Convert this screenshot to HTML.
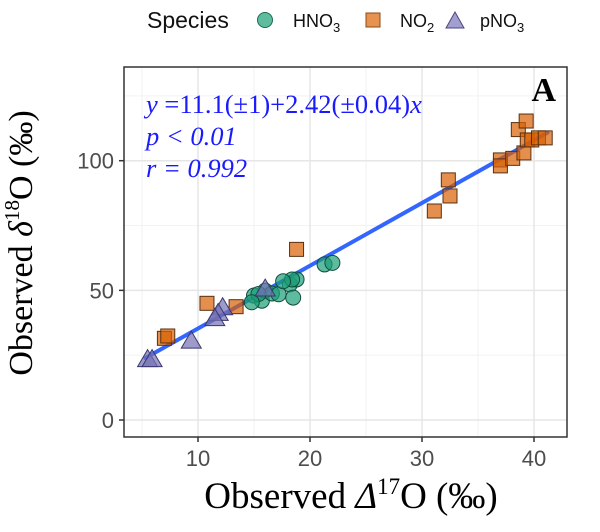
<!DOCTYPE html>
<html><head><meta charset="utf-8"><style>
body{margin:0;background:#fff;}
svg text{font-family:"Liberation Sans",sans-serif;}
.serif{font-family:"Liberation Serif",serif !important;}
</style></head><body>
<svg id="chart" width="600" height="527" viewBox="0 0 600 527" xmlns="http://www.w3.org/2000/svg">
<g id="legend">
  <text x="147" y="28" font-size="23" fill="#111">Species</text>
  <circle cx="265" cy="20" r="7.5" fill="#5fbd9f" stroke="#1a6b52" stroke-width="1"/>
  <text x="293" y="27" font-size="18" fill="#111">HNO<tspan font-size="13" dy="5">3</tspan></text>
  <rect x="366" y="13" width="14" height="14" fill="#e8924f" stroke="#8a4a14" stroke-width="1"/>
  <text x="400" y="27" font-size="18" fill="#111">NO<tspan font-size="13" dy="5">2</tspan></text>
  <polygon points="446,28 455,12 464,28" fill="#a29fd0" stroke="#4a4680" stroke-width="1"/>
  <text x="480" y="27" font-size="18" fill="#111">pNO<tspan font-size="13" dy="5">3</tspan></text>
</g>
<rect x="124" y="67" width="443" height="370" fill="#fff"/>
<g id="grid"></g>
<g id="fit"></g>
<g id="points"></g>
<rect x="124" y="67" width="443" height="370" fill="none" stroke="#333" stroke-width="1.5"/>
<g id="axes"></g>
<text x="556" y="101" font-size="34" font-weight="bold" class="serif" text-anchor="end" fill="#000">A</text>
<g fill="#1a1aff" class="serif">
  <text x="146" y="113" font-size="26.5" class="serif"><tspan font-style="italic">y</tspan> =11.1(±1)+2.42(±0.04)<tspan font-style="italic">x</tspan></text>
  <text x="146" y="145" font-size="26.5" class="serif" font-style="italic">p &lt; 0.01</text>
  <text x="146" y="177" font-size="26.5" class="serif" font-style="italic">r = 0.992</text>
</g>
<text x="351" y="508" font-size="37" class="serif" text-anchor="middle" fill="#000">Observed <tspan font-style="italic">Δ</tspan><tspan font-size="23" dy="-14">17</tspan><tspan dy="14">O (‰)</tspan></text>
<text transform="translate(32,243) rotate(-90)" font-size="34" class="serif" text-anchor="middle" fill="#000">Observed <tspan font-style="italic">δ</tspan><tspan font-size="21" dy="-13">18</tspan><tspan dy="13">O (‰)</tspan></text>
</svg>
<script>
const xTicks=[10,20,30,40];
const yTicks=[0,50,100];
const fitIntercept=11.1, fitSlope=2.42, fitRange=[5.3,41.2];
const hno3X=[15,15.7,16,16.6,17.2,18.2,18.8,18.5,18.4,21.3,22,15.4,14.8,17.6];
const hno3Y=[48,46,49.9,48.8,48.5,52.3,54.2,47.2,54.2,60,60.6,48.6,45.4,53.5];
const no2X=[32.35,32.5,31.1,37,37,38.1,38.6,39.3,39.1,39.4,39.8,40.4,41,18.8,10.8,13.4,7.0,7.3];
const no2Y=[92.6,86.4,80.6,100.3,98,100.9,112,115.3,103,108,108,108.8,108.8,65.8,45,43.7,31.5,32.4];
const pno3X=[16,12.2,11.8,11.5,9.4,5.5,5.9];
const pno3Y=[50.5,43.3,41.1,39.1,30.4,23.3,23.3];
const X=v=>86+11.2*v, Y=v=>420-2.593*v;
const NS="http://www.w3.org/2000/svg";
function mk(t,a,p){const e=document.createElementNS(NS,t);for(const k in a)e.setAttribute(k,a[k]);p.appendChild(e);return e;}
const grid=document.getElementById('grid'),axes=document.getElementById('axes'),pts=document.getElementById('points');
[5,15,25,35].forEach(v=>{const l=mk('line',{x1:X(v),x2:X(v),y1:67,y2:437,stroke:'#f2f2f2','stroke-width':1},grid);

});
[25,75,125].forEach(v=>{const l=mk('line',{x1:124,x2:567,y1:Y(v),y2:Y(v),stroke:'#f2f2f2','stroke-width':1},grid);

});
xTicks.forEach(v=>{const l=mk('line',{x1:X(v),x2:X(v),y1:67,y2:437,stroke:'#e6e6e6','stroke-width':1.5},grid);


const t=mk('line',{x1:X(v),x2:X(v),y1:437,y2:442,stroke:'#333','stroke-width':1.5},axes);


const s=mk('text',{x:X(v),y:466,'text-anchor':'middle','font-size':22,fill:'#4d4d4d'},axes);s.textContent=v;

});
yTicks.forEach(v=>{const l=mk('line',{x1:124,x2:567,y1:Y(v),y2:Y(v),stroke:'#e6e6e6','stroke-width':1.5},grid);


const t=mk('line',{x1:119,x2:124,y1:Y(v),y2:Y(v),stroke:'#333','stroke-width':1.5},axes);


const s=mk('text',{x:114,y:Y(v)+8,'text-anchor':'end','font-size':22,fill:'#4d4d4d'},axes);s.textContent=v;

});
const fl=mk('line',{x1:X(fitRange[0]),y1:Y(fitIntercept+fitSlope*fitRange[0]),x2:X(fitRange[1]),y2:Y(fitIntercept+fitSlope*fitRange[1]),stroke:'#3366ff','stroke-width':4,'stroke-linecap':'round'},document.getElementById('fit'));


no2X.forEach((v,i)=>{const e=mk('rect',{x:X(v)-7,y:Y(no2Y[i])-7,width:14,height:14,fill:'rgba(217,95,2,0.7)',stroke:'#5a3010','stroke-width':1},pts);

});
hno3X.forEach((v,i)=>{const e=mk('circle',{cx:X(v),cy:Y(hno3Y[i]),r:7.5,fill:'rgba(27,158,119,0.7)',stroke:'#124d3b','stroke-width':1},pts);

});
pno3X.forEach((v,i)=>{const cx=X(v),cy=Y(pno3Y[i]);const e=mk('polygon',{points:`${cx-10},${cy+7} ${cx},${cy-10} ${cx+10},${cy+7}`,fill:'rgba(117,112,179,0.7)',stroke:'#3a3670','stroke-width':1},pts);

});
</script>
</body></html>
